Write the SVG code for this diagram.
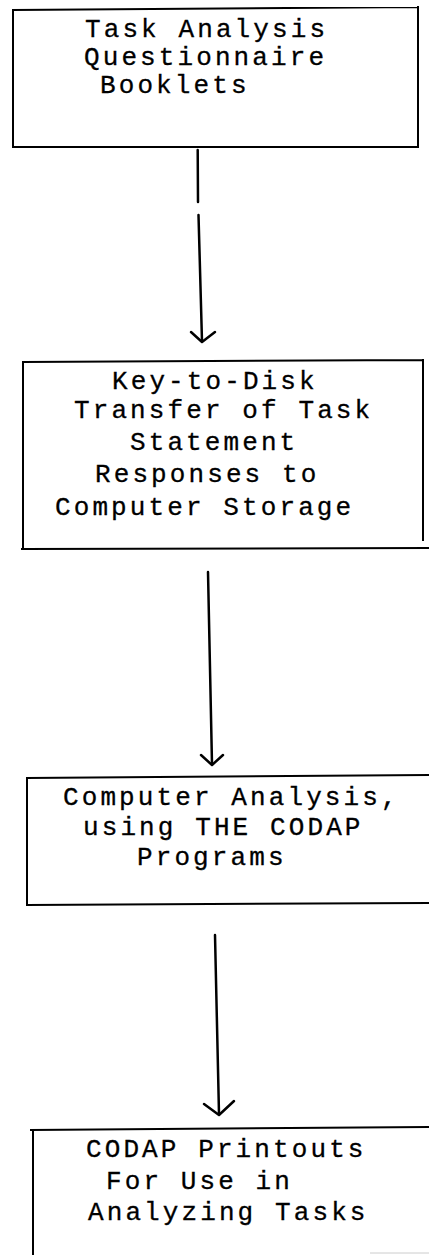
<svg xmlns="http://www.w3.org/2000/svg" width="429" height="1255" viewBox="0 0 429 1255">
<style>
.box{fill:none;stroke:#000;stroke-width:2;stroke-linecap:square}
.t{font-family:"Liberation Mono","Courier New",monospace;font-size:26px;letter-spacing:3.1px;fill:#000;stroke:#000;stroke-width:0.3}
.c{fill:none;stroke:#000;stroke-width:2.5;stroke-linecap:round;stroke-linejoin:round}
</style>
<rect width="429" height="1255" fill="#fff"/>
<g id="node1">
<path class="box" d="M13,10 L418,7 M13,10 L13,147 M418,7 L418,147 M13,147 L418,147"/>
<text class="t" x="85" y="37">Task Analysis</text>
<text class="t" x="84" y="65">Questionnaire</text>
<text class="t" x="100" y="93">Booklets</text>
</g>
<g id="node2">
<path class="box" d="M23,362 L423,360 M23,362 L23,549 M423,360 L423,540 M22,549 L429,548"/>
<text class="t" x="112" y="389">Key-to-Disk</text>
<text class="t" x="74" y="418">Transfer of Task</text>
<text class="t" x="130" y="450">Statement</text>
<text class="t" x="95" y="482">Responses to</text>
<text class="t" x="55" y="515">Computer Storage</text>
</g>
<g id="node3">
<path class="box" d="M27,778 L429,775 M27,778 L27,905 M27,905 L429,903"/>
<text class="t" x="63" y="805">Computer Analysis,</text>
<text class="t" x="83" y="835">using THE CODAP</text>
<text class="t" x="137" y="865">Programs</text>
</g>
<g id="node4">
<path class="box" d="M31,1130 L429,1127 M33,1130 L33,1255"/>
<line x1="370" y1="1253" x2="429" y2="1253" stroke="#ccc" stroke-width="1"/>
<text class="t" x="86" y="1157">CODAP Printouts</text>
<text class="t" x="106" y="1189">For Use in</text>
<text class="t" x="88" y="1220">Analyzing Tasks</text>
</g>
<g id="connectors">
<path class="c" d="M197.7,150 L198,202 M198.5,215 L202,341"/>
<path class="c" d="M191,332 L202,342 L215,332"/>
<path class="c" d="M208,572 L212,764"/>
<path class="c" d="M201,755 L212,765 L223,755"/>
<path class="c" d="M215,935 L219,1114"/>
<path class="c" d="M204,1104 L219,1115 L234,1101"/>
</g>
</svg>
